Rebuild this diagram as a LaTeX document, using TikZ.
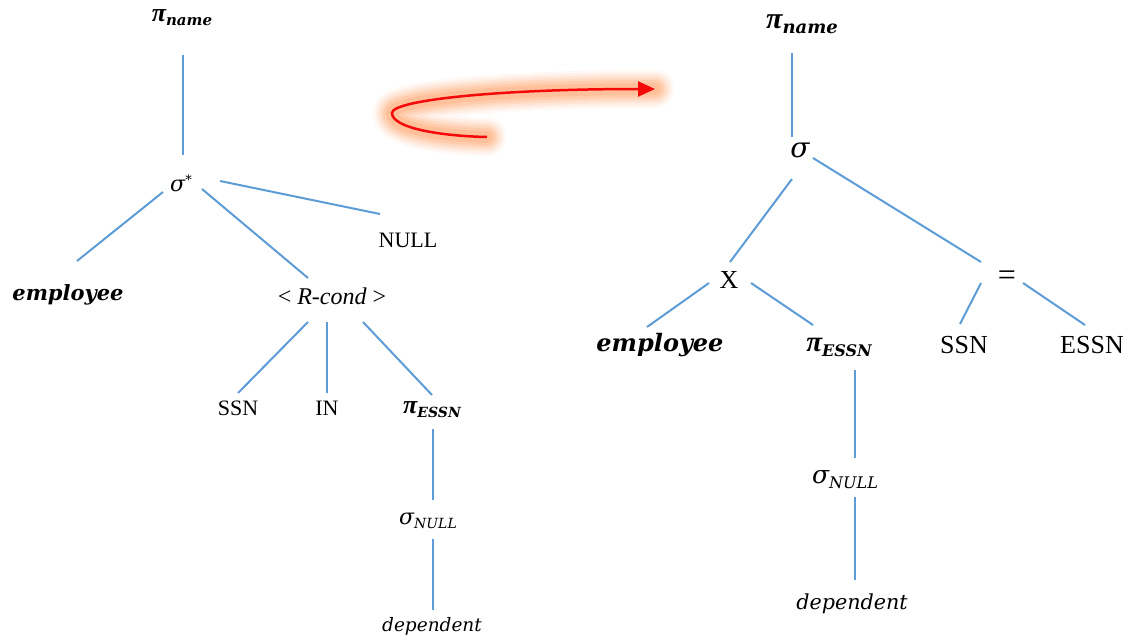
\documentclass[tikz,border=0pt]{standalone}
\usepackage{fontspec}
\setmainfont{Liberation Serif}
\newfontfamily\gfont{DejaVu Serif}
\usetikzlibrary{arrows.meta}
\definecolor{edgeblue}{RGB}{93,156,214}
\definecolor{glowcol}{RGB}{255,165,110}
\definecolor{arrowred}{RGB}{245,10,10}
% operator symbol with a lowered subscript: size, symbol, sub size, subscript, drop
\newcommand{\opsym}[5]{{\fontsize{#1}{#1}\selectfont #2}\raisebox{-#5pt}{\fontsize{#3}{#3}\selectfont #4}}
\newcommand{\bi}{\gfont\bfseries\itshape}
\newcommand{\ri}{\gfont\itshape}
\newcommand{\pig}{\rmfamily\bfseries\itshape π}
\tikzset{
  lab/.style={inner sep=0pt, anchor=center, font=\fontsize{22}{26}\selectfont},
  labR/.style={inner sep=0pt, anchor=center, font=\fontsize{26}{30}\selectfont},
  edge/.style={draw=edgeblue, line width=2pt},
  halo/.style={draw=glowcol, line cap=round, line join=round}
}
\begin{document}
\begin{tikzpicture}[x=1pt,y=-1pt]
\useasboundingbox (0,0) rectangle (1132,642);

% ---- original query tree ----
\node[lab] (Lpi)   at (182,18)  {\opsym{26}{\pig}{15}{\bi name}{4}};
\node[lab] (Lsig)  at (181,183) {{\fontsize{22}{22}\selectfont\ri σ}\raisebox{7pt}{\fontsize{13}{13}\selectfont\gfont *}};
\node[lab] (Lemp)  at (68,295)  {\fontsize{21}{21}\selectfont\bi employee};
\node[lab] (Lrc)   at (332,296) {\fontsize{24}{24}\selectfont < \textit{R-cond} >};
\node[lab] (Lnull) at (408,240) {NULL};
\node[lab] (Lssn)  at (238,408) {SSN};
\node[lab] (Lin)   at (327,408) {IN};
\node[lab] (Lpe)   at (432,410) {\opsym{26}{\pig}{14}{\bi ESSN}{4}};
\node[lab] (Lsn)   at (428,521) {\opsym{22}{\ri σ}{14}{\ri NULL}{4}};
\node[lab] (Ldep)  at (432,626) {\fontsize{18.5}{18.5}\selectfont\ri dependent};

\draw[edge] ([shift={(1,37)}]Lpi.center)   -- ([shift={(2,-28)}]Lsig.center);
\draw[edge] ([shift={(-18,9)}]Lsig.center) -- ([shift={(9,-34)}]Lemp.center);
\draw[edge] ([shift={(21,6)}]Lsig.center)  -- ([shift={(-24,-18)}]Lrc.center);
\draw[edge] ([shift={(39,-2)}]Lsig.center) -- ([shift={(-28,-26)}]Lnull.center);
\draw[edge] ([shift={(-24,26)}]Lrc.center) -- ([shift={(0,-15)}]Lssn.center);
\draw[edge] ([shift={(-5,26)}]Lrc.center)  -- ([shift={(0,-15)}]Lin.center);
\draw[edge] ([shift={(31,26)}]Lrc.center)  -- ([shift={(0,-15)}]Lpe.center);
\draw[edge] ([shift={(1,19)}]Lpe.center)   -- ([shift={(5,-21)}]Lsn.center);
\draw[edge] ([shift={(5,18)}]Lsn.center)   -- ([shift={(1,-16)}]Ldep.center);

% ---- rewritten query tree ----
\node[labR] (Rpi)   at (802,24)  {\opsym{30}{\pig}{18}{\bi name}{5}};
\node[labR] (Rsig)  at (800,150) {\fontsize{28}{28}\selectfont\ri σ};
\node[labR] (Rx)    at (729,280) {X};
\node[labR] (Req)   at (1007,278) {\fontsize{32}{32}\selectfont =};
\node[labR] (Remp)  at (660,345) {\fontsize{24}{24}\selectfont\bi employee};
\node[labR] (Rpe)   at (839,347) {\opsym{29}{\pig}{16}{\bi ESSN}{5}};
\node[labR] (Rssn)  at (964,345) {SSN};
\node[labR] (Ressn) at (1092,345) {ESSN};
\node[labR] (Rsn)   at (845,480) {\opsym{25}{\ri σ}{16}{\ri NULL}{5}};
\node[labR] (Rdep)  at (852,604) {\fontsize{20.7}{20.7}\selectfont\ri dependent};

\draw[edge] ([shift={(-10,29)}]Rpi.center)  -- ([shift={(-8,-13)}]Rsig.center);
\draw[edge] ([shift={(-8,29)}]Rsig.center)  -- ([shift={(1,-18)}]Rx.center);
\draw[edge] ([shift={(13,8)}]Rsig.center)   -- ([shift={(-26,-16)}]Req.center);
\draw[edge] ([shift={(-20,3)}]Rx.center)    -- ([shift={(-13,-18)}]Remp.center);
\draw[edge] ([shift={(22,3)}]Rx.center)     -- ([shift={(-26,-22)}]Rpe.center);
\draw[edge] ([shift={(-26,5)}]Req.center)   -- ([shift={(-4,-21)}]Rssn.center);
\draw[edge] ([shift={(16,5)}]Req.center)    -- ([shift={(-7,-20)}]Ressn.center);
\draw[edge] ([shift={(16,23)}]Rpe.center)   -- ([shift={(10,-22)}]Rsn.center);
\draw[edge] ([shift={(10,17)}]Rsn.center)   -- ([shift={(3,-24)}]Rdep.center);

% ---- glowing rewrite arrow ----
\coordinate (aStart) at (487,137);
\coordinate (aTurn)  at (392,113);
\coordinate (aTip)   at (655,89);
\foreach \w/\o in {38/0.08, 33/0.1, 28/0.14, 23/0.18, 18/0.24, 12/0.32}{
  \draw[halo, line width=\w pt, opacity=\o]
    (aStart) .. controls (440,136) and (392,128) .. (aTurn)
    .. controls (392,100) and (500,89) .. (aTip);
}
\draw[arrowred, line width=2.5pt, -{Triangle[length=17pt,width=15pt]}]
  (aStart) .. controls (440,136) and (392,128) .. (aTurn)
  .. controls (392,100) and (500,89) .. (aTip);
\end{tikzpicture}
\end{document}
